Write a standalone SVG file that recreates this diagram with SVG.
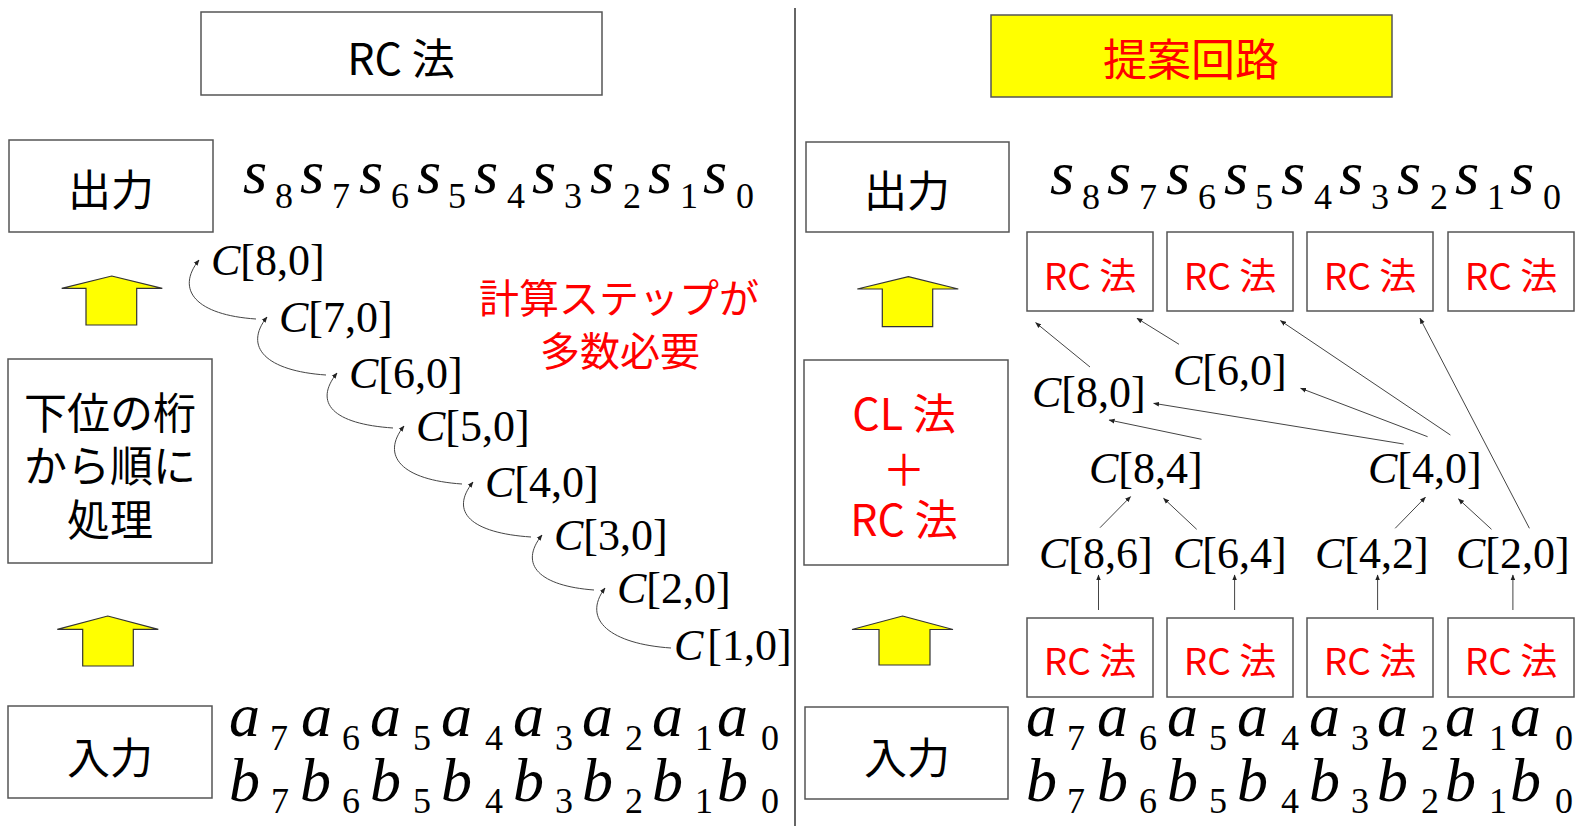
<svg xmlns="http://www.w3.org/2000/svg" width="1576" height="826" viewBox="0 0 1576 826">
<style>
.box{fill:#fff;stroke:#555;stroke-width:1.5}
.ybox{fill:#ff0;stroke:#555;stroke-width:1.5}
.jp{font-family:"Noto Sans CJK JP","Noto Sans",sans-serif;text-anchor:middle}
.big{font-size:43px;fill:#000}
.red{fill:#f00}
.sm{font-size:37px;fill:#f00}
.m{font-family:"Liberation Serif",serif;font-style:italic;font-size:62px;fill:#000}
.sub{font-family:"Liberation Serif",serif;font-size:36px;fill:#000}
.c{font-family:"Liberation Serif",serif;font-size:44px;fill:#000}
.it{font-style:italic}
.arrow{fill:#ff0;stroke:#333;stroke-width:1.2}
.ln{fill:none;stroke:#444;stroke-width:1}
</style>
<defs>
<marker id="ah" viewBox="0 0 10 10" refX="9" refY="5" markerWidth="6" markerHeight="6" markerUnits="userSpaceOnUse" orient="auto">
<path d="M0,1 L10,5 L0,9 z" fill="#222"/>
</marker>
</defs>

<line x1="795" y1="8" x2="795" y2="826" stroke="#333" stroke-width="1.5"/>

<!-- Left side -->
<g id="rc-title"><rect class="box" x="201" y="12" width="401" height="83"/><text class="jp big" x="401" y="75">RC 法</text></g>
<g id="out-left"><rect class="box" x="9" y="140" width="204" height="92"/><text class="jp big" x="111" y="206">出力</text></g>
<g id="proc-left"><rect class="box" x="8" y="359" width="204" height="204"/>
<text class="jp big" x="110" y="429">下位の桁</text><text class="jp big" x="110" y="482">から順に</text><text class="jp big" x="110" y="536">処理</text></g>
<g id="in-left"><rect class="box" x="8" y="706" width="204" height="92"/><text class="jp big" x="110" y="774">入力</text></g>
<g id="arrow-l1"><path class="arrow" d="M111.7,276 L162.3,288.3 L136.7,288.3 L136.7,325 L86,325 L86,288.3 L61.7,288.3 Z"/></g>
<g id="arrow-l2"><path class="arrow" d="M107.7,616 L158.3,629.3 L133.3,629.3 L133.3,666 L82.7,666 L82.7,629.3 L57.3,629.3 Z"/></g>
<g id="note"><text class="jp red" font-size="40" x="619" y="313">計算ステップが</text><text class="jp red" font-size="40" x="620" y="366">多数必要</text></g>

<g id="s-left">
<text class="m" x="243" y="193">s</text><text class="sub" x="275" y="208">8</text>
<text class="m" x="300" y="193">s</text><text class="sub" x="332" y="208">7</text>
<text class="m" x="359" y="193">s</text><text class="sub" x="391" y="208">6</text>
<text class="m" x="417" y="193">s</text><text class="sub" x="448" y="208">5</text>
<text class="m" x="474" y="193">s</text><text class="sub" x="507" y="208">4</text>
<text class="m" x="532" y="193">s</text><text class="sub" x="564" y="208">3</text>
<text class="m" x="590" y="193">s</text><text class="sub" x="623" y="208">2</text>
<text class="m" x="648" y="193">s</text><text class="sub" x="680" y="208">1</text>
<text class="m" x="703" y="193">s</text><text class="sub" x="736" y="208">0</text>
</g>
<g id="ab-left">
<text class="m" x="229" y="736">a</text><text class="sub" x="270" y="750">7</text>
<text class="m" x="301" y="736">a</text><text class="sub" x="342" y="750">6</text>
<text class="m" x="370" y="736">a</text><text class="sub" x="413" y="750">5</text>
<text class="m" x="441" y="736">a</text><text class="sub" x="485" y="750">4</text>
<text class="m" x="513" y="736">a</text><text class="sub" x="555" y="750">3</text>
<text class="m" x="582" y="736">a</text><text class="sub" x="625" y="750">2</text>
<text class="m" x="652" y="736">a</text><text class="sub" x="695" y="750">1</text>
<text class="m" x="717" y="736">a</text><text class="sub" x="761" y="750">0</text>
<text class="m" x="229" y="801">b</text><text class="sub" x="271" y="813">7</text>
<text class="m" x="300" y="801">b</text><text class="sub" x="342" y="813">6</text>
<text class="m" x="370" y="801">b</text><text class="sub" x="413" y="813">5</text>
<text class="m" x="441" y="801">b</text><text class="sub" x="485" y="813">4</text>
<text class="m" x="513" y="801">b</text><text class="sub" x="555" y="813">3</text>
<text class="m" x="582" y="801">b</text><text class="sub" x="625" y="813">2</text>
<text class="m" x="652" y="801">b</text><text class="sub" x="695" y="813">1</text>
<text class="m" x="717" y="801">b</text><text class="sub" x="761" y="813">0</text>
</g>

<g id="c80-l"><text class="c" x="211" y="275"><tspan class="it">C</tspan>[8,0]</text></g>
<g id="c70-l"><text class="c" x="279" y="332"><tspan class="it">C</tspan>[7,0]</text></g>
<g id="c60-l"><text class="c" x="349" y="388"><tspan class="it">C</tspan>[6,0]</text></g>
<g id="c50-l"><text class="c" x="416" y="441"><tspan class="it">C</tspan>[5,0]</text></g>
<g id="c40-l"><text class="c" x="485" y="497"><tspan class="it">C</tspan>[4,0]</text></g>
<g id="c30-l"><text class="c" x="554" y="550"><tspan class="it">C</tspan>[3,0]</text></g>
<g id="c20-l"><text class="c" x="617" y="603"><tspan class="it">C</tspan>[2,0]</text></g>
<g id="c10-l"><text class="c" x="674" y="660"><tspan class="it">C</tspan><tspan dx="4">[1,0]</tspan></text></g>

<!-- Right side -->
<g id="prop-title"><rect class="ybox" x="991" y="15" width="401" height="82"/><text class="jp red" font-size="44" x="1191" y="76">提案回路</text></g>
<g id="out-right"><rect class="box" x="806" y="142" width="203" height="90"/><text class="jp big" x="907" y="207">出力</text></g>
<g id="proc-right"><rect class="box" x="804" y="360" width="204" height="205"/>
<text class="jp big red" x="904" y="430">CL 法</text><text class="jp big red" x="904" y="486">＋</text><text class="jp big red" x="904" y="536">RC 法</text></g>
<g id="in-right"><rect class="box" x="805" y="707" width="203" height="92"/><text class="jp big" x="907" y="774">入力</text></g>
<g id="arrow-r1"><path class="arrow" d="M908.3,276.7 L958.3,289 L932.7,289 L932.7,326.7 L882.3,326.7 L882.3,289 L857.3,289 Z"/></g>
<g id="arrow-r2"><path class="arrow" d="M902.5,616 L953,629.5 L930,629.5 L930,665 L879,665 L879,629.5 L852,629.5 Z"/></g>

<g id="rc-top-1"><rect class="box" x="1027" y="232" width="126" height="79"/><text class="jp sm" x="1090" y="290">RC 法</text></g>
<g id="rc-top-2"><rect class="box" x="1167" y="232" width="126" height="79"/><text class="jp sm" x="1230" y="290">RC 法</text></g>
<g id="rc-top-3"><rect class="box" x="1307" y="232" width="126" height="79"/><text class="jp sm" x="1370" y="290">RC 法</text></g>
<g id="rc-top-4"><rect class="box" x="1448" y="232" width="126" height="79"/><text class="jp sm" x="1511" y="290">RC 法</text></g>
<g id="rc-bot-1"><rect class="box" x="1027" y="618" width="126" height="79"/><text class="jp sm" x="1090" y="675">RC 法</text></g>
<g id="rc-bot-2"><rect class="box" x="1167" y="618" width="126" height="79"/><text class="jp sm" x="1230" y="675">RC 法</text></g>
<g id="rc-bot-3"><rect class="box" x="1307" y="618" width="126" height="79"/><text class="jp sm" x="1370" y="675">RC 法</text></g>
<g id="rc-bot-4"><rect class="box" x="1448" y="618" width="126" height="79"/><text class="jp sm" x="1511" y="675">RC 法</text></g>

<g id="c80-r"><text class="c" x="1032" y="407"><tspan class="it">C</tspan>[8,0]</text></g>
<g id="c60-r"><text class="c" x="1173" y="385"><tspan class="it">C</tspan>[6,0]</text></g>
<g id="c84-r"><text class="c" x="1089" y="483"><tspan class="it">C</tspan>[8,4]</text></g>
<g id="c40-r"><text class="c" x="1368" y="483"><tspan class="it">C</tspan>[4,0]</text></g>
<g id="c86-r"><text class="c" x="1039" y="568"><tspan class="it">C</tspan>[8,6]</text></g>
<g id="c64-r"><text class="c" x="1173" y="568"><tspan class="it">C</tspan>[6,4]</text></g>
<g id="c42-r"><text class="c" x="1315" y="568"><tspan class="it">C</tspan>[4,2]</text></g>
<g id="c20-r"><text class="c" x="1456" y="568"><tspan class="it">C</tspan>[2,0]</text></g>

<g id="s-right">
<text class="m" x="1050" y="194">s</text><text class="sub" x="1082" y="209">8</text>
<text class="m" x="1107" y="194">s</text><text class="sub" x="1139" y="209">7</text>
<text class="m" x="1166" y="194">s</text><text class="sub" x="1198" y="209">6</text>
<text class="m" x="1224" y="194">s</text><text class="sub" x="1255" y="209">5</text>
<text class="m" x="1281" y="194">s</text><text class="sub" x="1314" y="209">4</text>
<text class="m" x="1339" y="194">s</text><text class="sub" x="1371" y="209">3</text>
<text class="m" x="1397" y="194">s</text><text class="sub" x="1430" y="209">2</text>
<text class="m" x="1455" y="194">s</text><text class="sub" x="1487" y="209">1</text>
<text class="m" x="1510" y="194">s</text><text class="sub" x="1543" y="209">0</text>
</g>
<g id="ab-right">
<text class="m" x="1026" y="736">a</text><text class="sub" x="1067" y="750">7</text>
<text class="m" x="1097" y="736">a</text><text class="sub" x="1139" y="750">6</text>
<text class="m" x="1167" y="736">a</text><text class="sub" x="1209" y="750">5</text>
<text class="m" x="1237" y="736">a</text><text class="sub" x="1281" y="750">4</text>
<text class="m" x="1309" y="736">a</text><text class="sub" x="1351" y="750">3</text>
<text class="m" x="1377" y="736">a</text><text class="sub" x="1421" y="750">2</text>
<text class="m" x="1445" y="736">a</text><text class="sub" x="1489" y="750">1</text>
<text class="m" x="1510" y="736">a</text><text class="sub" x="1555" y="750">0</text>
<text class="m" x="1026" y="801">b</text><text class="sub" x="1067" y="813">7</text>
<text class="m" x="1097" y="801">b</text><text class="sub" x="1139" y="813">6</text>
<text class="m" x="1167" y="801">b</text><text class="sub" x="1209" y="813">5</text>
<text class="m" x="1237" y="801">b</text><text class="sub" x="1281" y="813">4</text>
<text class="m" x="1309" y="801">b</text><text class="sub" x="1351" y="813">3</text>
<text class="m" x="1377" y="801">b</text><text class="sub" x="1421" y="813">2</text>
<text class="m" x="1445" y="801">b</text><text class="sub" x="1489" y="813">1</text>
<text class="m" x="1510" y="801">b</text><text class="sub" x="1555" y="813">0</text>
</g>

<g id="connectors">
<path class="ln" marker-end="url(#ah)" d="M256,319 C196,315 175,290 199,260"/>
<path class="ln" marker-end="url(#ah)" d="M326,375 C266,371 243,347 267,317"/>
<path class="ln" marker-end="url(#ah)" d="M393,428 C333,424 313,403 337,373"/>
<path class="ln" marker-end="url(#ah)" d="M462,484 C402,480 380,456 404,426"/>
<path class="ln" marker-end="url(#ah)" d="M531,537 C471,533 449,512 473,482"/>
<path class="ln" marker-end="url(#ah)" d="M594,590 C540,586 518,565 542,535"/>
<path class="ln" marker-end="url(#ah)" d="M671,648 C611,644 581,620 605,588"/>

<line class="ln" marker-end="url(#ah)" x1="1090" y1="367" x2="1035.7" y2="322.7"/>
<line class="ln" marker-end="url(#ah)" x1="1179" y1="344.3" x2="1137" y2="318.3"/>
<line class="ln" marker-end="url(#ah)" x1="1450.4" y1="435" x2="1280.5" y2="320.7"/>
<line class="ln" marker-end="url(#ah)" x1="1529.4" y1="528.3" x2="1420" y2="318.3"/>
<line class="ln" marker-end="url(#ah)" x1="1427.6" y1="436.7" x2="1300.7" y2="388.3"/>
<line class="ln" marker-end="url(#ah)" x1="1403.7" y1="444" x2="1153.7" y2="403.3"/>
<line class="ln" marker-end="url(#ah)" x1="1201.5" y1="439.3" x2="1109.2" y2="420"/>
<line class="ln" marker-end="url(#ah)" x1="1100" y1="527.7" x2="1130.5" y2="496.7"/>
<line class="ln" marker-end="url(#ah)" x1="1196.7" y1="529.3" x2="1163.6" y2="498.3"/>
<line class="ln" marker-end="url(#ah)" x1="1395.2" y1="528.3" x2="1425.4" y2="497.3"/>
<line class="ln" marker-end="url(#ah)" x1="1491.5" y1="529.3" x2="1458.5" y2="499"/>
<line class="ln" marker-end="url(#ah)" x1="1098.5" y1="610" x2="1098.5" y2="575"/>
<line class="ln" marker-end="url(#ah)" x1="1234.6" y1="610" x2="1234.6" y2="575"/>
<line class="ln" marker-end="url(#ah)" x1="1377.6" y1="610" x2="1377.6" y2="575"/>
<line class="ln" marker-end="url(#ah)" x1="1512.9" y1="610" x2="1512.9" y2="575"/>
</g>
</svg>
